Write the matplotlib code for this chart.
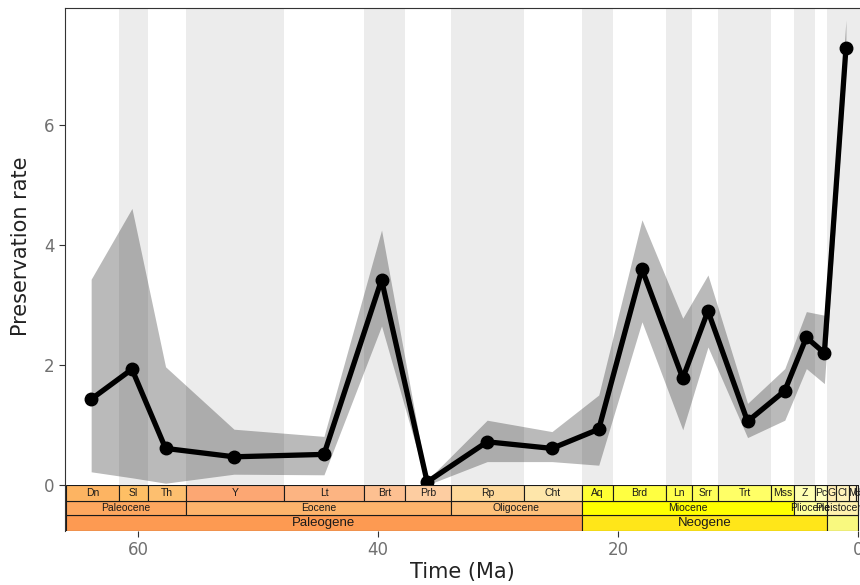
import matplotlib
matplotlib.use("Agg")
import matplotlib.pyplot as plt

# preservation rate per stage (age in Ma, mean, lower, upper)
ages = [63.9, 60.5, 57.7, 52.0, 44.5, 39.7, 35.9, 30.9, 25.5, 21.6,
        18.0, 14.6, 12.5, 9.2, 6.1, 4.3, 2.8, 1.0]
rate = [1.43, 1.93, 0.61, 0.47, 0.51, 3.42, 0.05, 0.72, 0.61, 0.93,
        3.60, 1.78, 2.90, 1.06, 1.57, 2.46, 2.20, 7.28]
rate_lo = [0.22, 0.12, 0.03, 0.18, 0.17, 2.65, 0.00, 0.39, 0.39, 0.33,
           2.72, 0.92, 2.30, 0.79, 1.08, 1.94, 1.69, 6.90]
rate_hi = [3.43, 4.61, 1.97, 0.93, 0.81, 4.25, 0.08, 1.08, 0.89, 1.50,
           4.42, 2.78, 3.50, 1.36, 1.94, 2.89, 2.83, 7.75]

# ICS stages
stage_names = ["Dn", "Sl", "Th", "Y", "Lt", "Brt", "Prb", "Rp", "Cht", "Aq",
               "Brd", "Ln", "Srr", "Trt", "Mss", "Z", "Pc", "G", "Cl", "M", "U", "H"]
stage_max = [66.0, 61.6, 59.2, 56.0, 47.8, 41.2, 37.71, 33.9, 27.82, 23.03,
             20.44, 15.97, 13.82, 11.63, 7.246, 5.333, 3.6, 2.58, 1.8, 0.774, 0.129, 0.0117]
stage_min = stage_max[1:] + [0.0]
stage_cols = ["#FDB462", "#FEBF65", "#FDBF6F", "#FCA773", "#FCB482", "#FDC091", "#FDCDA1",
              "#FED99A", "#FEE6AA", "#FFFF33", "#FFFF41", "#FFFF4D", "#FFFF59", "#FFFF66",
              "#FFFF73", "#FFFFB3", "#FFFFBF", "#FFEDB3", "#FFF2BA", "#FFF2C7", "#FFF2D3", "#FEEBD2"]

epoch_names = ["Paleocene", "Eocene", "Oligocene", "Miocene", "Pliocene", "Pleistocene", ""]
epoch_max = [66.0, 56.0, 33.9, 23.03, 5.333, 2.58, 0.0117]
epoch_min = epoch_max[1:] + [0.0]
epoch_cols = ["#FDA75F", "#FDB46C", "#FEC07A", "#FFFF00", "#FFFF99", "#FFF2AE", "#FEF2E0"]

period_names = ["Paleogene", "Neogene", ""]
period_max = [66.0, 23.03, 2.58]
period_min = [23.03, 2.58, 0.0]
period_cols = ["#FD9A52", "#FFE619", "#F9F97F"]

# shaded background intervals
band_max = [61.6, 56.0, 41.2, 33.9, 23.03, 15.97, 11.63, 5.333, 2.58]
band_min = [59.2, 47.8, 37.71, 27.82, 20.44, 13.82, 7.246, 3.6, -1.0]

fig = plt.figure(figsize=(8.6, 5.85), dpi=100)
ax = fig.add_axes([65 / 860, 100 / 585, 795 / 860, 477 / 585])
ts = fig.add_axes([65 / 860, 54 / 585, 795 / 860, 46 / 585], sharex=ax)

for b0, b1 in zip(band_max, band_min):
    ax.axvspan(b1, b0, color="#ececec", lw=0, zorder=0)

ax.fill_between(ages, rate_lo, rate_hi, color="black", alpha=0.27, lw=0, zorder=2)
ax.plot(ages, rate, color="black", lw=3.8, marker="o", ms=9, zorder=3)

ax.set_xlim(66.08, -0.17)
ax.set_ylim(0, 7.95)
ax.set_yticks([0, 2, 4, 6])
ax.tick_params(axis="y", colors="#333333", labelcolor="#707070", labelsize=12, length=4)
ax.tick_params(axis="x", bottom=False, labelbottom=False)
for s in ["right", "bottom"]:
    ax.spines[s].set_visible(False)
for s in ["left", "top"]:
    ax.spines[s].set_color("#333333")
ax.set_ylabel("Preservation rate", fontsize=15, color="#222222", labelpad=9)


def draw_row(names, t_max, t_min, cols, y0, h, fs):
    for name, a, b, c in zip(names, t_max, t_min, cols):
        ts.add_patch(plt.Rectangle((b, y0), a - b, h, facecolor=c,
                                   edgecolor="#1a1a1a", lw=0.8))
        if name:
            ts.text((a + b) / 2, y0 + h / 2, name, ha="center", va="center",
                    fontsize=fs, family="Liberation Sans", color="#1a1a1a", clip_on=True)


draw_row(period_names, period_max, period_min, period_cols, 0, 16, 9.5)
draw_row(epoch_names, epoch_max, epoch_min, epoch_cols, 16, 14, 7.5)
draw_row(stage_names, stage_max, stage_min, stage_cols, 30, 16, 7.5)

ts.set_ylim(0, 46)
ts.set_yticks([])
ts.set_xticks([60, 40, 20, 0])
ts.tick_params(axis="x", colors="#333333", labelcolor="#707070", labelsize=12, length=4)
for s in ["right", "top", "bottom"]:
    ts.spines[s].set_visible(False)
ts.spines["left"].set_color("#333333")
ts.set_xlabel("Time (Ma)", fontsize=15, color="#222222", labelpad=2)

fig.savefig("out.png", dpi=100)
